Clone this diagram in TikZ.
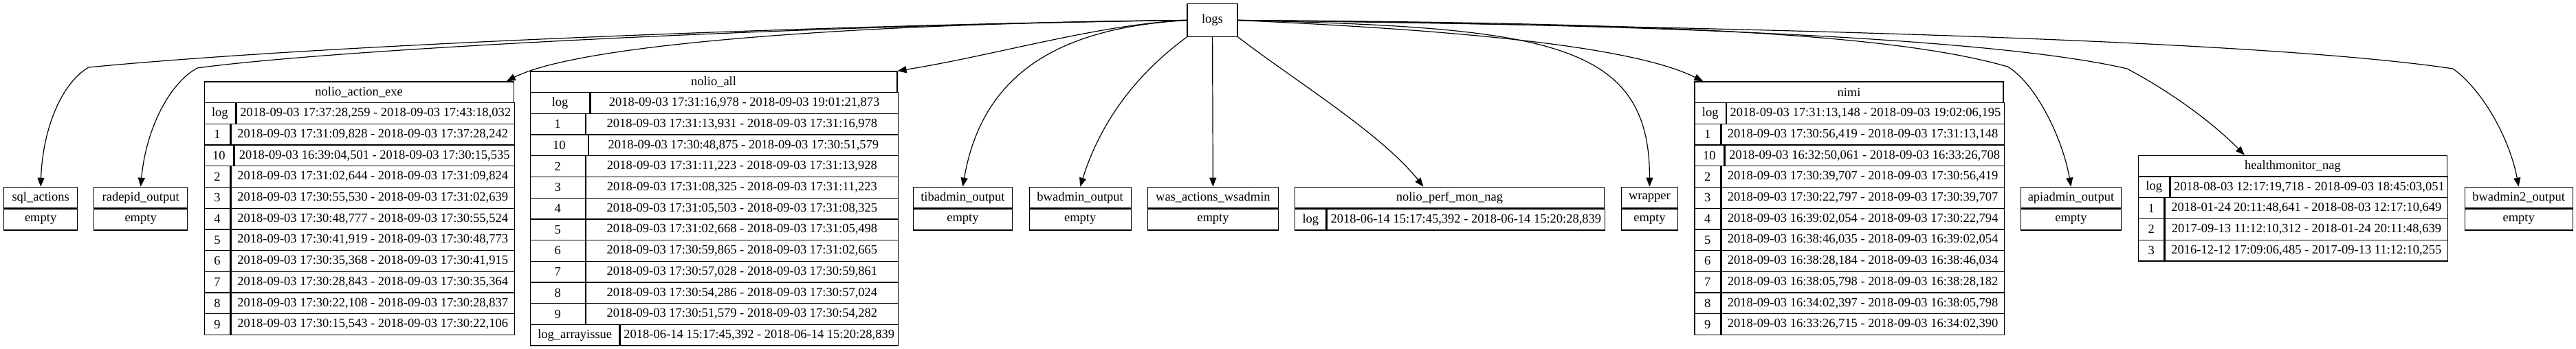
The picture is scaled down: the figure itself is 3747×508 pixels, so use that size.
\documentclass[tikz,border=0pt]{standalone}
\usepackage{fontspec}
\setmainfont{Liberation Serif}
\usetikzlibrary{positioning,arrows.meta}
\tikzset{
  cell/.style={draw,line width=1.3pt,inner sep=0pt,minimum height=30.7pt,anchor=north west},
  hub/.style={draw,line width=1.3pt,inner sep=0pt,minimum width=73pt,minimum height=47.5pt},
  link/.style={-{Triangle[length=13pt,width=10pt]},line width=1.2pt}
}

\begin{document}
\begin{tikzpicture}[x=1pt,y=-1pt,
  every node/.style={font=\fontsize{18.5}{22}\selectfont}]
\useasboundingbox (0,0) rectangle (3747,508);

% Root
\node[hub] (logs) at (1763.5,29.5) {logs};

% Empty records
\node[cell,minimum width=107pt] (sql) at (5,271.7) {sql\_actions};
\node[cell,minimum width=107pt,below=0pt of sql] (sql-e) {empty};
\node[cell,minimum width=136pt] (radepid) at (136,271.7) {radepid\_output};
\node[cell,minimum width=136pt,below=0pt of radepid] (radepid-e) {empty};
\node[cell,minimum width=144.5pt] (tib) at (1327.5,271.7) {tibadmin\_output};
\node[cell,minimum width=144.5pt,below=0pt of tib] (tib-e) {empty};
\node[cell,minimum width=148pt] (bw) at (1496.5,271.7) {bwadmin\_output};
\node[cell,minimum width=148pt,below=0pt of bw] (bw-e) {empty};
\node[cell,minimum width=190.5pt] (was) at (1668.5,271.7) {was\_actions\_wsadmin};
\node[cell,minimum width=190.5pt,below=0pt of was] (was-e) {empty};
\node[cell,minimum width=81.5pt] (wrap) at (2358,271.7) {wrapper};
\node[cell,minimum width=81.5pt,below=0pt of wrap] (wrap-e) {empty};
\node[cell,minimum width=146.5pt] (api) at (2938.5,271.7) {apiadmin\_output};
\node[cell,minimum width=146.5pt,below=0pt of api] (api-e) {empty};
\node[cell,minimum width=157pt] (bw2) at (3584.5,271.7) {bwadmin2\_output};
\node[cell,minimum width=157pt,below=0pt of bw2] (bw2-e) {empty};

% nolio_action_exe
\node[cell,minimum width=450pt] (nae) at (296.5,118.3) {nolio\_action\_exe};
\foreach \k/\w/\v [count=\i] in {
  log/45.5/{2018-09-03 17:37:28,259 - 2018-09-03 17:43:18,032},
  1/37.5/{2018-09-03 17:31:09,828 - 2018-09-03 17:37:28,242},
  10/42.5/{2018-09-03 16:39:04,501 - 2018-09-03 17:30:15,535},
  2/37.5/{2018-09-03 17:31:02,644 - 2018-09-03 17:31:09,824},
  3/37.5/{2018-09-03 17:30:55,530 - 2018-09-03 17:31:02,639},
  4/37.5/{2018-09-03 17:30:48,777 - 2018-09-03 17:30:55,524},
  5/37.5/{2018-09-03 17:30:41,919 - 2018-09-03 17:30:48,773},
  6/37.5/{2018-09-03 17:30:35,368 - 2018-09-03 17:30:41,915},
  7/37.5/{2018-09-03 17:30:28,843 - 2018-09-03 17:30:35,364},
  8/37.5/{2018-09-03 17:30:22,108 - 2018-09-03 17:30:28,837},
  9/37.5/{2018-09-03 17:30:15,543 - 2018-09-03 17:30:22,106}} {
  \node[cell,minimum width=\w pt] (nae-k\i) at ({296.5},{118.3+30.7*\i}) {\k};
  \node[cell,minimum width={(450-\w)*1pt}] (nae-v\i) at (nae-k\i.north east) {\v};
}

% nolio_all
\node[cell,minimum width=533.5pt] (nall) at (770.7,103.3) {nolio\_all};
\foreach \k/\w/\v [count=\i] in {
  log/86.5/{2018-09-03 17:31:16,978 - 2018-09-03 19:01:21,873},
  1/79.8/{2018-09-03 17:31:13,931 - 2018-09-03 17:31:16,978},
  10/83.8/{2018-09-03 17:30:48,875 - 2018-09-03 17:30:51,579},
  2/79.8/{2018-09-03 17:31:11,223 - 2018-09-03 17:31:13,928},
  3/79.8/{2018-09-03 17:31:08,325 - 2018-09-03 17:31:11,223},
  4/79.8/{2018-09-03 17:31:05,503 - 2018-09-03 17:31:08,325},
  5/79.8/{2018-09-03 17:31:02,668 - 2018-09-03 17:31:05,498},
  6/79.8/{2018-09-03 17:30:59,865 - 2018-09-03 17:31:02,665},
  7/79.8/{2018-09-03 17:30:57,028 - 2018-09-03 17:30:59,861},
  8/79.8/{2018-09-03 17:30:54,286 - 2018-09-03 17:30:57,024},
  9/79.8/{2018-09-03 17:30:51,579 - 2018-09-03 17:30:54,282},
  log\_arrayissue/129.7/{2018-06-14 15:17:45,392 - 2018-06-14 15:20:28,839}} {
  \node[cell,minimum width=\w pt] (nall-k\i) at ({770.7},{103.3+30.7*\i}) {\k};
  \node[cell,minimum width={(533.5-\w)*1pt}] (nall-v\i) at (nall-k\i.north east) {\v};
}

% nolio_perf_mon_nag
\node[cell,minimum width=449.5pt] (perf) at (1883,271.7) {nolio\_perf\_mon\_nag};
\node[cell,minimum width=45.4pt,below=0pt of perf.south west,anchor=north west] (perf-k1) {log};
\node[cell,minimum width=404.1pt] (perf-v1) at (perf-k1.north east) {2018-06-14 15:17:45,392 - 2018-06-14 15:20:28,839};

% nimi
\node[cell,minimum width=449pt] (nimi) at (2464.3,118.3) {nimi};
\foreach \k/\w/\v [count=\i] in {
  log/45.4/{2018-09-03 17:31:13,148 - 2018-09-03 19:02:06,195},
  1/37.7/{2018-09-03 17:30:56,419 - 2018-09-03 17:31:13,148},
  10/42.8/{2018-09-03 16:32:50,061 - 2018-09-03 16:33:26,708},
  2/37.7/{2018-09-03 17:30:39,707 - 2018-09-03 17:30:56,419},
  3/37.7/{2018-09-03 17:30:22,797 - 2018-09-03 17:30:39,707},
  4/37.7/{2018-09-03 16:39:02,054 - 2018-09-03 17:30:22,794},
  5/37.7/{2018-09-03 16:38:46,035 - 2018-09-03 16:39:02,054},
  6/37.7/{2018-09-03 16:38:28,184 - 2018-09-03 16:38:46,034},
  7/37.7/{2018-09-03 16:38:05,798 - 2018-09-03 16:38:28,182},
  8/37.7/{2018-09-03 16:34:02,397 - 2018-09-03 16:38:05,798},
  9/37.7/{2018-09-03 16:33:26,715 - 2018-09-03 16:34:02,390}} {
  \node[cell,minimum width=\w pt] (nimi-k\i) at ({2464.3},{118.3+30.7*\i}) {\k};
  \node[cell,minimum width={(449-\w)*1pt}] (nimi-v\i) at (nimi-k\i.north east) {\v};
}

% healthmonitor_nag
\node[cell,minimum width=449pt] (hm) at (3109.7,225.7) {healthmonitor\_nag};
\foreach \k/\w/\v [count=\i] in {
  log/45.7/{2018-08-03 12:17:19,718 - 2018-09-03 18:45:03,051},
  1/37.5/{2018-01-24 20:11:48,641 - 2018-08-03 12:17:10,649},
  2/37.5/{2017-09-13 11:12:10,312 - 2018-01-24 20:11:48,639},
  3/37.5/{2016-12-12 17:09:06,485 - 2017-09-13 11:12:10,255}} {
  \node[cell,minimum width=\w pt] (hm-k\i) at ({3109.7},{225.7+30.7*\i}) {\k};
  \node[cell,minimum width={(449-\w)*1pt}] (hm-v\i) at (hm-k\i.north east) {\v};
}

% Edges to the left
\draw[link] (logs.west) .. controls (1300,34) and (500,62) .. (129,98)
  .. controls (88,122) and (62,190) .. (sql.north);
\draw[link] (logs.west) .. controls (1200,36) and (500,70) .. (287,99)
  .. controls (245,122) and (212,190) .. (radepid.north);
\draw[link] (logs.west) .. controls (1300,33) and (850,60) .. ([xshift=-11pt]nae.north east);
\draw[link] (logs.west) .. controls (1600,35) and (1450,80) .. (nall.north east);
\draw[link] (logs.west) .. controls (1550,40) and (1430,100) .. (tib.north);
\draw[link] (logs.south west) .. controls (1650,110) and (1600,180) .. (bw.north);

% Straight down
\draw[link] (logs) -- (was);
\draw[link] (logs.south east) .. controls (1880,115) and (2010,195) .. ([xshift=-38pt]perf.north);

% Edges to the right
\draw[link] (logs.east) .. controls (2250,40) and (2400,60) .. (wrap.north);
\draw[link] (logs.east) .. controls (2150,45) and (2380,70) .. ([xshift=13pt]nimi.north west);
\draw[link] (logs.east) .. controls (2400,33) and (2750,48) .. (2920,97)
  .. controls (2960,120) and (3000,200) .. (api.north);
\draw[link] (logs.east) .. controls (2400,35) and (2900,55) .. (3094,100)
  .. controls (3160,135) and (3220,180) .. ([xshift=-70pt]hm.north);
\draw[link] (logs.east) .. controls (2600,40) and (3300,60) .. (3568,100)
  .. controls (3610,130) and (3650,200) .. (bw2.north);

\end{tikzpicture}
\end{document}
